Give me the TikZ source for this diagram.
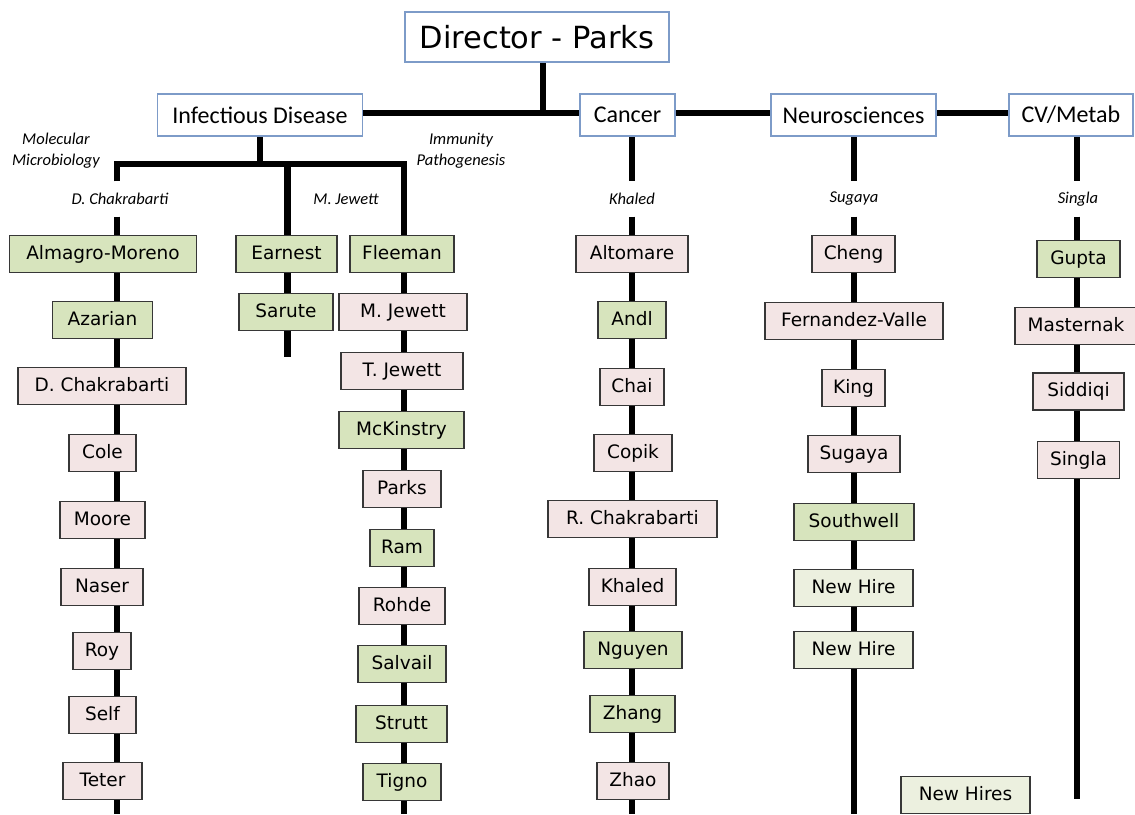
\documentclass[tikz,border=0pt]{standalone}
\usepackage{fontspec}
\setmainfont{DejaVu Sans}
\newfontfamily\hdrfont{Carlito}
\usetikzlibrary{backgrounds}
\definecolor{grn}{RGB}{215,228,189}
\definecolor{pnk}{RGB}{243,229,229}
\definecolor{nhr}{RGB}{236,240,223}
\definecolor{hbd}{RGB}{125,155,200}
\definecolor{bdr}{RGB}{55,55,55}
\begin{document}
\begin{tikzpicture}[x=1pt,y=-1pt,
  nm/.style={draw=bdr, line width=1.3pt, minimum height=37, inner sep=0,
    text height=13.5pt, text depth=3.5pt, font=\fontsize{18.5}{21}\selectfont},
  g/.style={nm, fill=grn}, p/.style={nm, fill=pnk}, nh/.style={nm, fill=nhr},
  hd/.style={draw=hbd, line width=1.1pt, fill=white, minimum height=42, inner sep=0,
    font=\hdrfont\fontsize{24}{27}\selectfont},
  lb/.style={inner sep=0, minimum height=35, font=\hdrfont\itshape\fontsize{16.5}{19}\selectfont},
  grp/.style={inner sep=0, align=center, font=\hdrfont\itshape\fontsize{16.5}{21}\selectfont},
  bar/.style={line width=6.5pt, black, line join=miter}]
\useasboundingbox (0,0) rectangle (1135,814);
% headers
\node[hd, minimum width=264, minimum height=50, font=\fontsize{30.5}{33}\selectfont] (dir) at (537,37) {Director - Parks};
\node[hd, minimum width=205] (id) at (260,115) {Infectious Disease};
\node[hd, minimum width=95] (canc) at (627.5,115) {Cancer};
\node[hd, minimum width=165] (neu) at (853.5,115) {Neurosciences};
\node[hd, minimum width=124] (cv) at (1071,115) {CV/Metab};
% group labels
\node[grp] (molmic) at (56,151) {Molecular\\Microbiology};
\node[grp] (immpat) at (461,151) {Immunity\\Pathogenesis};
\node[lb] (dclab) at (120,199) {D. Chakrabarti};
\node[lb] (mjlab) at (346,199) {M. Jewett};
\node[lb] (khlab) at (632,199) {Khaled};
\node[lb] (sglab) at (854,199) {Sugaya};
\node[lb] (silab) at (1078,199) {Singla};
% coordinates
\coordinate (tb) at (543,113);
\coordinate (jL) at (117,164);
\coordinate (jM) at (287.5,164);
\coordinate (jR) at (404,164);
\coordinate (X4) at (632,0);
\coordinate (X5) at (854,0);
\coordinate (X6) at (1077,0);
\coordinate (e1) at (117,814);
\coordinate (e2) at (287.5,357);
\coordinate (e3) at (404,814);
\coordinate (e4) at (632,814);
\coordinate (e5) at (854,814);
\coordinate (e6) at (1077,799);
% column 1
\node[g, minimum width=187] (almagro) at (103,254) {Almagro-Moreno};
\node[g, minimum width=100] (azarian) at (102.5,320) {Azarian};
\node[p, minimum width=168] (dchak) at (102,386) {D. Chakrabarti};
\node[p, minimum width=67] (cole) at (102.5,453) {Cole};
\node[p, minimum width=85] (moore) at (102.5,520) {Moore};
\node[p, minimum width=82] (naser) at (102,587) {Naser};
\node[p, minimum width=58] (roy) at (102,651) {Roy};
\node[p, minimum width=67] (self) at (102.5,715) {Self};
\node[p, minimum width=79] (teter) at (102.5,781) {Teter};
% column 2
\node[g, minimum width=101] (earnest) at (286.5,254) {Earnest};
\node[g, minimum width=94] (sarute) at (286,312) {Sarute};
% column 3
\node[g, minimum width=104] (fleeman) at (402,254) {Fleeman};
\node[p, minimum width=128] (mjewett) at (403,312) {M. Jewett};
\node[p, minimum width=122] (tjewett) at (402,371) {T. Jewett};
\node[g, minimum width=125] (mckinstry) at (401.5,430) {McKinstry};
\node[p, minimum width=78] (parks) at (402,489) {Parks};
\node[g, minimum width=64] (ram) at (402,548) {Ram};
\node[p, minimum width=86] (rohde) at (402,606) {Rohde};
\node[g, minimum width=88] (salvail) at (402,664) {Salvail};
\node[g, minimum width=91] (strutt) at (401.5,724) {Strutt};
\node[g, minimum width=78] (tigno) at (402,782) {Tigno};
% column 4
\node[p, minimum width=112] (altomare) at (632,254) {Altomare};
\node[g, minimum width=68] (andl) at (632,320) {Andl};
\node[p, minimum width=64] (chai) at (632,387) {Chai};
\node[p, minimum width=78] (copik) at (633,453) {Copik};
\node[p, minimum width=169] (rchak) at (632.5,519) {R. Chakrabarti};
\node[p, minimum width=87] (khaled) at (632.5,587) {Khaled};
\node[g, minimum width=98] (nguyen) at (633,650) {Nguyen};
\node[g, minimum width=85] (zhang) at (632.5,714) {Zhang};
\node[p, minimum width=72] (zhao) at (633,781) {Zhao};
% column 5
\node[p, minimum width=83] (cheng) at (853.5,254) {Cheng};
\node[p, minimum width=178] (fernandez) at (854,321) {Fernandez-Valle};
\node[p, minimum width=63] (king) at (853.5,388) {King};
\node[p, minimum width=92] (sugaya) at (854,454) {Sugaya};
\node[g, minimum width=120] (southwell) at (854,522) {Southwell};
\node[nh, minimum width=119] (newhireA) at (853.5,588) {New Hire};
\node[nh, minimum width=119] (newhireB) at (853.5,650) {New Hire};
% column 6
\node[g, minimum width=83] (gupta) at (1078.5,259) {Gupta};
\node[p, minimum width=122] (masternak) at (1076,326) {Masternak};
\node[p, minimum width=91] (siddiqi) at (1078.5,391.5) {Siddiqi};
\node[p, minimum width=82] (singla) at (1078.5,460) {Singla};
% new hires
\node[nh, minimum width=129] (newhires) at (965.5,795) {New Hires};
% connectors
\begin{scope}[on background layer]
\draw[bar] (dir.south -| tb) -- (tb);
\draw[bar] (id.east |- tb) -- (canc.west |- tb);
\draw[bar] (canc.east |- tb) -- (neu.west |- tb);
\draw[bar] (neu.east |- tb) -- (cv.west |- tb);
\draw[bar] (id.south) -- (id.south |- jL);
\draw[bar] (dclab.north -| jL) -- (jL) -- (jR) -- (fleeman.north -| jR);
\draw[bar] (jM) -- (earnest.north -| jM);
\draw[bar] (dclab.south -| jL) -- (almagro.north -| jL);
\foreach \a/\b in {almagro/azarian,azarian/dchak,dchak/cole,cole/moore,moore/naser,naser/roy,roy/self,self/teter}
  \draw[bar] (\a.south -| jL) -- (\b.north -| jL);
\draw[bar] (teter.south -| jL) -- (e1);
\draw[bar] (earnest.south -| jM) -- (sarute.north -| jM);
\draw[bar] (sarute.south -| jM) -- (e2);
\foreach \a/\b in {fleeman/mjewett,mjewett/tjewett,tjewett/mckinstry,mckinstry/parks,parks/ram,ram/rohde,rohde/salvail,salvail/strutt,strutt/tigno}
  \draw[bar] (\a.south -| jR) -- (\b.north -| jR);
\draw[bar] (tigno.south -| jR) -- (e3);
\draw[bar] (canc.south -| X4) -- (khlab.north -| X4);
\draw[bar] (khlab.south -| X4) -- (altomare.north -| X4);
\foreach \a/\b in {altomare/andl,andl/chai,chai/copik,copik/rchak,rchak/khaled,khaled/nguyen,nguyen/zhang,zhang/zhao}
  \draw[bar] (\a.south -| X4) -- (\b.north -| X4);
\draw[bar] (zhao.south -| X4) -- (e4);
\draw[bar] (neu.south -| X5) -- (sglab.north -| X5);
\draw[bar] (sglab.south -| X5) -- (cheng.north -| X5);
\foreach \a/\b in {cheng/fernandez,fernandez/king,king/sugaya,sugaya/southwell,southwell/newhireA,newhireA/newhireB}
  \draw[bar] (\a.south -| X5) -- (\b.north -| X5);
\draw[bar] (newhireB.south -| X5) -- (e5);
\draw[bar] (cv.south -| X6) -- (silab.north -| X6);
\draw[bar] (silab.south -| X6) -- (gupta.north -| X6);
\foreach \a/\b in {gupta/masternak,masternak/siddiqi,siddiqi/singla}
  \draw[bar] (\a.south -| X6) -- (\b.north -| X6);
\draw[bar] (singla.south -| X6) -- (e6);
\end{scope}
\end{tikzpicture}
\end{document}
